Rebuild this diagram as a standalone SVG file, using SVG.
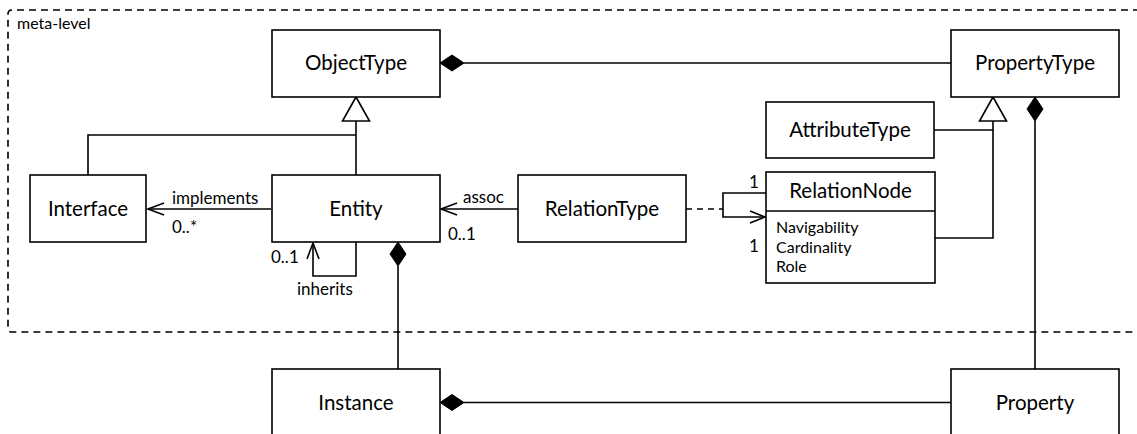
<svg xmlns="http://www.w3.org/2000/svg" width="1137" height="434" viewBox="0 0 1137 434">
<style>
.box{fill:#fff;stroke:#000;stroke-width:1.6}
.ln{fill:none;stroke:#000;stroke-width:1.6}
.dash{fill:none;stroke:#000;stroke-width:1.6;stroke-dasharray:7 5}
.dia{fill:#000;stroke:#000;stroke-width:1}
.tri{fill:#fff;stroke:#000;stroke-width:1.6}
.name{font-family:Lato,"Liberation Sans",sans-serif;font-size:20.5px;text-anchor:middle;fill:#000}
.lbl{font-family:Lato,"Liberation Sans",sans-serif;font-size:17px;fill:#000}
.att{font-family:Lato,"Liberation Sans",sans-serif;font-size:16px;fill:#000}
</style>
<g id="frame">
<path class="dash" d="M1140 10 H12 Q8 10 8 14 V328 Q8 332 12 332 H1140"/>
<text class="att" x="17" y="29">meta-level</text>
</g>
<g id="connectors">
<line class="ln" x1="464" y1="63" x2="951" y2="63"/>
<polygon class="dia" points="440,63 452,55 464,63 452,71"/>
<path class="ln" d="M356 175 V121"/>
<path class="ln" d="M88 175 V135 H356"/>
<polygon class="tri" points="356,97 369.5,121 342.5,121"/>
<path class="ln" d="M934 130 H993"/>
<path class="ln" d="M935 238 H993 V121"/>
<polygon class="tri" points="993,97 1006.5,121 979.5,121"/>
<line class="ln" x1="1035" y1="121" x2="1035" y2="369"/>
<polygon class="dia" points="1035,97 1043,109 1035,121 1027,109"/>
<line class="ln" x1="398" y1="266" x2="398" y2="369"/>
<polygon class="dia" points="398,242 406,254 398,266 390,254"/>
<line class="ln" x1="464" y1="402.5" x2="951" y2="402.5"/>
<polygon class="dia" points="440,402.5 452,394.5 464,402.5 452,410.5"/>
<path class="ln" d="M271 209 H148"/>
<path class="ln" d="M164 203 L148 209 L164 215"/>
<path class="ln" d="M518 209 H441"/>
<path class="ln" d="M457 203 L441 209 L457 215"/>
<path class="ln" d="M356 242 V276 H313 V243"/>
<path class="ln" d="M307 259 L313 243 L319 259"/>
<path class="dash" d="M686 209 H723" style="stroke-dasharray:6 5"/>
<path class="ln" d="M766 193 H723 V217 H765"/>
<path class="ln" d="M750 211 L765 217 L750 223"/>
<text class="lbl" x="172" y="204">implements</text>
<text class="lbl" x="172" y="233">0..*</text>
<text class="lbl" x="463" y="203">assoc</text>
<text class="lbl" x="448" y="240">0..1</text>
<text class="lbl" x="271" y="263">0..1</text>
<text class="lbl" x="297" y="295">inherits</text>
<text class="lbl" x="749" y="188">1</text>
<text class="lbl" x="749" y="252">1</text>
</g>
<g id="ObjectType"><rect class="box" x="272" y="30" width="168" height="67"/><text class="name" x="356" y="70">ObjectType</text></g>
<g id="PropertyType"><rect class="box" x="951" y="30" width="168" height="67"/><text class="name" x="1035" y="70">PropertyType</text></g>
<g id="AttributeType"><rect class="box" x="766" y="102" width="168" height="56"/><text class="name" x="850" y="137">AttributeType</text></g>
<g id="Interface"><rect class="box" x="30" y="175" width="116" height="67"/><text class="name" x="88" y="215.5">Interface</text></g>
<g id="Entity"><rect class="box" x="272" y="175" width="168" height="67"/><text class="name" x="356" y="215.5">Entity</text></g>
<g id="RelationType"><rect class="box" x="518" y="175" width="168" height="67"/><text class="name" x="602" y="215.5">RelationType</text></g>
<g id="RelationNode"><rect class="box" x="766" y="172" width="169" height="111"/><line class="ln" x1="766" y1="211" x2="935" y2="211"/><text class="name" x="850.5" y="198">RelationNode</text><text class="att" x="776" y="233">Navigability</text><text class="att" x="776" y="252.5">Cardinality</text><text class="att" x="776" y="272">Role</text></g>
<g id="Instance"><rect class="box" x="272" y="369" width="168" height="67"/><text class="name" x="356" y="410">Instance</text></g>
<g id="Property"><rect class="box" x="951" y="369" width="168" height="67"/><text class="name" x="1035" y="410">Property</text></g>
</svg>
